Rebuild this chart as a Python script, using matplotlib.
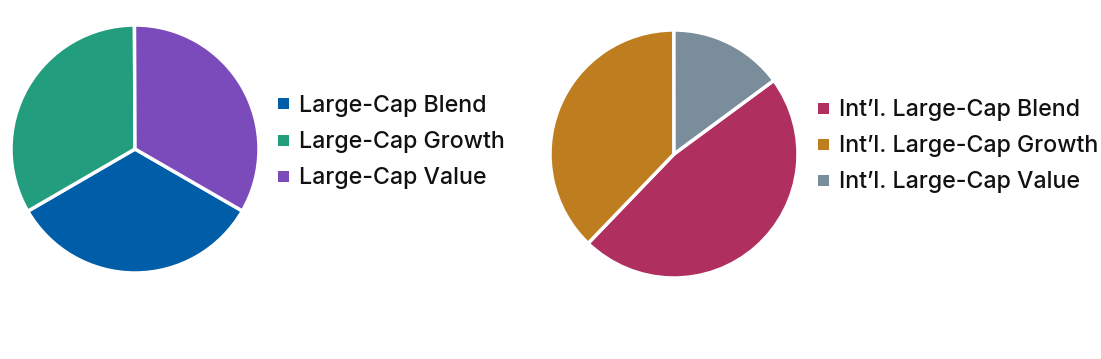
import matplotlib.pyplot as plt
from matplotlib.patches import Rectangle

plt.rcParams['font.family'] = ['Inter', 'DejaVu Sans']

# =========================
# data
# =========================
us_labels = ["Large-Cap Blend", "Large-Cap Growth", "Large-Cap Value"]
us_values = [33.3, 33.3, 33.4]
us_colors = ["#005EA8", "#229D7D", "#7B4ABB"]

intl_labels = ["Int\u2019l. Large-Cap Blend", "Int\u2019l. Large-Cap Growth", "Int\u2019l. Large-Cap Value"]
intl_values = [47.3, 37.8, 14.9]
intl_colors = ["#AF2F5E", "#BE7D1F", "#7A8D9B"]

W, H = 1101, 359
fig = plt.figure(figsize=(W / 100, H / 100), dpi=100)


def draw_pie(box, values, colors, startangle):
    ax = fig.add_axes([box[0] / W, box[1] / H, box[2] / W, box[3] / H])
    ax.pie(values, colors=colors, startangle=startangle, counterclock=False,
           wedgeprops=dict(edgecolor="white", linewidth=2.5))
    ax.set_xlim(-1.0, 1.0)
    ax.set_ylim(-1.0, 1.0)
    ax.set_aspect("equal")
    ax.axis("off")


def draw_legend(x, y0, labels, colors, step=36):
    for i, (lab, col) in enumerate(zip(labels, colors)):
        y = y0 + i * step
        fig.patches.append(Rectangle(((x) / W, (H - y - 5.5) / H), 11 / W, 11 / H,
                                     transform=fig.transFigure, facecolor=col,
                                     edgecolor="none"))
        fig.text((x + 21) / W, (H - y - 2) / H, lab, fontsize=16.7, color="#111111",
                 va="center", ha="left", fontweight="medium")


draw_pie((11, 86, 248, 248), us_values, us_colors, startangle=330)
draw_pie((550, 81, 248, 248), intl_values, intl_colors, startangle=36.4)

draw_legend(278, 104, us_labels, us_colors)
draw_legend(818, 108, intl_labels, intl_colors)

fig.savefig("out.png", dpi=100)
